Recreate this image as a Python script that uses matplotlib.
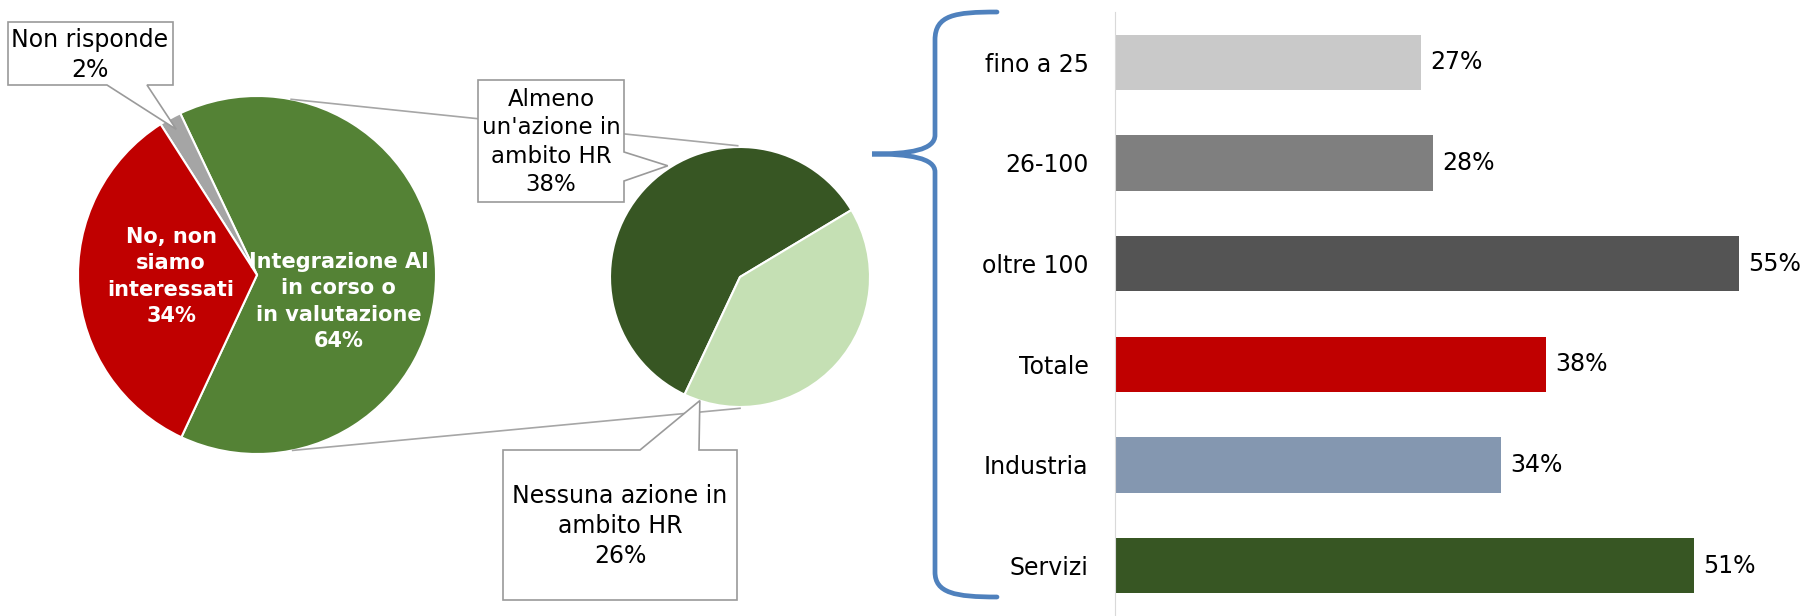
import numpy as np
import matplotlib.pyplot as plt
from matplotlib.patches import Polygon, PathPatch
from matplotlib.path import Path

plt.rcParams['font.family'] = ['DejaVu Sans']

# data
main_labels = ['Integrazione AI\nin corso o\nin valutazione', 'Non risponde', 'No, non\nsiamo\ninteressati']
main_values = [64, 2, 34]
main_colors = ['#548235', '#A5A5A5', '#C00000']

sub_labels = ["Almeno\nun'azione in\nambito HR", 'Nessuna azione in\nambito HR']
sub_values = [38, 26]
sub_colors = ['#375623', '#C5E0B4']

bar_labels = ['fino a 25', '26-100', 'oltre 100', 'Totale', 'Industria', 'Servizi']
bar_values = [27, 28, 55, 38, 34, 51]
bar_colors = ['#C9C9C9', '#7F7F7F', '#545454', '#C00000', '#8497B0', '#375623']

W, H = 1800, 616
fig = plt.figure(figsize=(18, 6.16), dpi=100)

# overlay axes in pixel units (y up)
ax = fig.add_axes([0, 0, 1, 1])


def up(pts):
    return [(x, H - y) for x, y in pts]


def on_circle(c, r, ang, f=1.0):
    a = np.deg2rad(ang)
    return (c[0] + f * r * np.cos(a), c[1] + f * r * np.sin(a))


big_c, big_r = (257, H - 275), 179
small_c, small_r = (740, H - 277), 130

ax.pie(main_values, colors=main_colors, center=big_c, radius=big_r,
       startangle=-115, counterclock=True,
       wedgeprops=dict(edgecolor='white', linewidth=1.5))
ax.pie(sub_values, colors=sub_colors, center=small_c, radius=small_r,
       startangle=31, counterclock=True,
       wedgeprops=dict(edgecolor='white', linewidth=1.5))

# connector lines between the two pies
for a1, a2 in [(79, 91), (-78.5, -90)]:
    p1 = on_circle(big_c, big_r, a1)
    p2 = on_circle(small_c, small_r, a2, 1.01)
    ax.plot([p1[0], p2[0]], [p1[1], p2[1]], color='#A6A6A6', lw=1.2, zorder=1)

# labels inside the big pie
x, y = on_circle(big_c, big_r, -18, 0.48)
ax.text(x, y, f'{main_labels[0]}\n{main_values[0]}%', color='white', fontsize=15,
        fontweight='bold', ha='center', va='center', linespacing=1.4)
x, y = on_circle(big_c, big_r, 181, 0.48)
ax.text(x, y, f'{main_labels[2]}\n{main_values[2]}%', color='white', fontsize=15,
        fontweight='bold', ha='center', va='center', linespacing=1.4)

# callout boxes
box_kw = dict(facecolor='white', edgecolor='#9A9A9A', lw=1.2, zorder=3)

tip = up([on_circle(big_c, big_r, 119, 0.93)])[0]
ax.add_patch(Polygon(up([(8, 22), (173, 22), (173, 85), (147, 85), tip, (107, 85), (8, 85)]), **box_kw))
ax.text(90, H - 55, f'{main_labels[1]}\n{main_values[1]}%', fontsize=17,
        ha='center', va='center', linespacing=1.3, zorder=4)

tip = up([on_circle(small_c, small_r, 123, 1.02)])[0]
ax.add_patch(Polygon(up([(478, 80), (624, 80), (624, 152), tip, (624, 181), (624, 202), (478, 202)]), **box_kw))
ax.text(551, H - 142, f'{sub_labels[0]}\n{sub_values[0]}%', fontsize=16.5,
        ha='center', va='center', linespacing=1.3, zorder=4)

tip = up([on_circle(small_c, small_r, 252, 1.0)])[0]
ax.add_patch(Polygon(up([(503, 450), (640, 450), tip, (699, 450), (737, 450), (737, 600), (503, 600)]), **box_kw))
ax.text(620, H - 526, f'{sub_labels[1]}\n{sub_values[1]}%', fontsize=17,
        ha='center', va='center', linespacing=1.3, zorder=4)

# curly brace
verts = up([(997, 12), (955, 12), (935, 15), (935, 40), (935, 135),
            (935, 150), (910, 154), (872, 154),
            (910, 154), (935, 158), (935, 172), (935, 572),
            (935, 593), (955, 597), (997, 597)])
codes = [Path.MOVETO, Path.CURVE4, Path.CURVE4, Path.CURVE4, Path.LINETO,
         Path.CURVE4, Path.CURVE4, Path.CURVE4,
         Path.CURVE4, Path.CURVE4, Path.CURVE4, Path.LINETO,
         Path.CURVE4, Path.CURVE4, Path.CURVE4]
ax.add_patch(PathPatch(Path(verts, codes), facecolor='none', edgecolor='#4F81BD',
                       lw=3.4, capstyle='round'))

ax.set_xlim(0, W)
ax.set_ylim(0, H)
ax.axis('off')

# bar chart
bx = fig.add_axes([1115 / W, 0, (W - 1115) / W, 604 / H])
pos = np.arange(len(bar_values))
bx.barh(pos, bar_values, height=0.55, color=bar_colors)
for i, v in enumerate(bar_values):
    bx.annotate(f'{v}%', (v, i), xytext=(6.5, 0), textcoords='offset points',
                va='center', ha='left', fontsize=17, annotation_clip=False)
bx.set_ylim(5.5, -0.5)
bx.set_xlim(0, 60.35)
bx.set_yticks(pos)
bx.set_yticklabels(bar_labels, fontsize=17)
bx.set_xticks([])
bx.tick_params(axis='y', length=0, pad=19)
for s in ['top', 'right', 'bottom']:
    bx.spines[s].set_visible(False)
bx.spines['left'].set_color('#D9D9D9')
bx.patch.set_alpha(0)

plt.savefig('out.png', dpi=100)
